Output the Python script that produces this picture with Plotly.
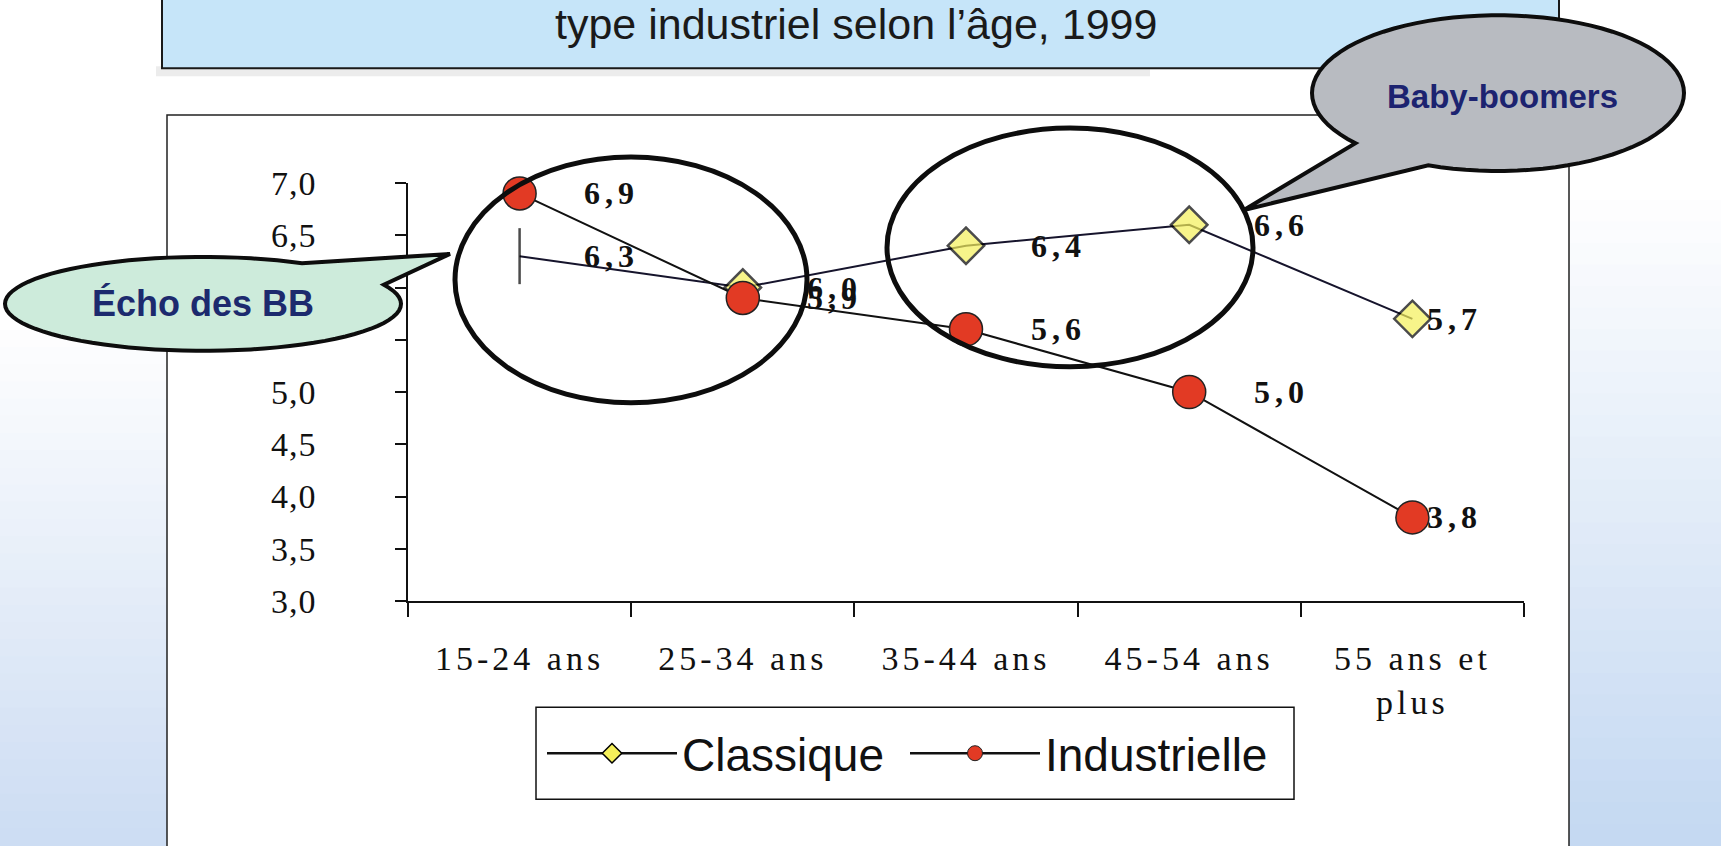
import math
import plotly.graph_objects as go

# ---------------- data ----------------
categories = ["15-24 ans", "25-34 ans", "35-44 ans", "45-54 ans", "55 ans et<br>plus"]
classique = [6.3, 6.0, 6.4, 6.6, 5.7]
industrielle = [6.9, 5.9, 5.6, 5.0, 3.8]
y_ticks = [3.0, 3.5, 4.0, 4.5, 5.0, 5.5, 6.0, 6.5, 7.0]
hidden_ticks = [5.5, 6.0]          # covered by the "Écho des BB" callout
title_text = "type industriel selon l\u2019âge, 1999"
callout_left = "Écho des BB"
callout_right = "Baby-boomers"

# ---------------- geometry helpers (page pixels -> paper) ----------------
W, H = 1721, 846
L, R, T, B = 408, 1524, 183, 601.5


def fx(px):
    return (px - L) / (R - L)


def fy(py):
    return (B - py) / (B - T)


def callout_path(cx, cy, rx, ry, a_start, a_end, tip):
    pts = []
    a = a_start
    while a <= a_end + 1e-9:
        t = math.radians(a)
        pts.append((cx + rx * math.cos(t), cy + ry * math.sin(t)))
        a += 4
    pts.append(tip)
    return "M " + " L ".join(f"{fx(x):.5f},{fy(y):.5f}" for x, y in pts) + " Z"


def spaced(txt, sp):
    return f'<span style="letter-spacing:{sp}px">{txt}</span>'


fig = go.Figure()

# data traces
fig.add_trace(go.Scatter(
    x=categories, y=classique, mode="lines+markers", name="Classique",
    showlegend=False, cliponaxis=False,
    line=dict(color="#16142c", width=2),
    marker=dict(symbol=["line-ns", "diamond", "diamond", "diamond", "diamond"],
                size=[40, 28, 28, 28, 28], color="#f5f05a",
                line=dict(color="#000000", width=2.5)),
))
fig.add_trace(go.Scatter(
    x=categories, y=industrielle, mode="lines+markers", name="Industrielle",
    showlegend=False, cliponaxis=False,
    line=dict(color="#111111", width=2),
    marker=dict(symbol="circle", size=33, color="#e23a24",
                line=dict(color="#222222", width=1.5)),
))
# legend entries
fig.add_trace(go.Scatter(
    x=[None], y=[None], mode="lines+markers", name="Classique",
    line=dict(color="#111111", width=2.5),
    marker=dict(symbol="diamond", size=15, color="#f5f05a",
                line=dict(color="#000000", width=1.5)),
))
fig.add_trace(go.Scatter(
    x=[None], y=[None], mode="lines+markers", name="Industrielle",
    line=dict(color="#111111", width=2.5),
    marker=dict(symbol="circle", size=15, color="#e23a24",
                line=dict(color="#222222", width=1)),
))

# data labels
annotations = []
label_font = dict(family="Liberation Serif", size=32, color="#111111")
for series in (classique, industrielle):
    for i, (c, v) in enumerate(zip(categories, series)):
        annotations.append(dict(
            x=c, y=v, xref="x", yref="y", showarrow=False,
            text="<b>" + spaced(f"{v:.1f}".replace(".", ","), 5) + "</b>",
            xshift=92 if i < len(categories) - 1 else 42,
            font=label_font,
        ))

# ---------------- decorative shapes ----------------
shapes = []
n = 30
for k in range(n):
    y0 = 330 + k * (846 - 330) / n
    y1 = 330 + (k + 1) * (846 - 330) / n
    f = (k + 1) / n
    col = f"rgb({int(255 - f * 50)},{int(255 - f * 34)},{int(255 - f * 12)})"
    shapes.append(dict(type="rect", xref="paper", yref="paper", layer="below",
                       x0=fx(-5), x1=fx(167), y0=fy(y1 + 1), y1=fy(y0),
                       fillcolor=col, line=dict(width=0)))
for k in range(n):
    y0 = 200 + k * (846 - 200) / n
    y1 = 200 + (k + 1) * (846 - 200) / n
    f = (k + 1) / n
    col = f"rgb({int(255 - f * 58)},{int(255 - f * 38)},{int(255 - f * 13)})"
    shapes.append(dict(type="rect", xref="paper", yref="paper", layer="below",
                       x0=fx(1569), x1=fx(1730), y0=fy(y1 + 1), y1=fy(y0),
                       fillcolor=col, line=dict(width=0)))
# chart frame
shapes.append(dict(type="rect", xref="paper", yref="paper", layer="below",
                   x0=fx(167), x1=fx(1569), y0=fy(900), y1=fy(115),
                   fillcolor="white", line=dict(color="#222222", width=1.5)))
# title box shadow and box
shapes.append(dict(type="rect", xref="paper", yref="paper", layer="below",
                   x0=fx(156), x1=fx(1150), y0=fy(76), y1=fy(66),
                   fillcolor="#ececec", line=dict(width=0)))
shapes.append(dict(type="rect", xref="paper", yref="paper", layer="below",
                   x0=fx(162), x1=fx(1559), y0=fy(68), y1=fy(-20),
                   fillcolor="#c6e5f9", line=dict(color="#1a1a1a", width=2)))
# legend box
shapes.append(dict(type="rect", xref="paper", yref="paper", layer="below",
                   x0=fx(536), x1=fx(1294), y0=fy(800), y1=fy(708),
                   fillcolor="white", line=dict(color="#111111", width=1.5)))
# circled groups
shapes.append(dict(type="circle", xref="paper", yref="paper", layer="above",
                   x0=fx(455), x1=fx(807), y0=fy(403), y1=fy(157),
                   line=dict(color="#0d0d0d", width=5)))
shapes.append(dict(type="circle", xref="paper", yref="paper", layer="above",
                   x0=fx(887), x1=fx(1253), y0=fy(367), y1=fy(128),
                   line=dict(color="#0d0d0d", width=5)))
# callouts
shapes.append(dict(type="path", xref="paper", yref="paper", layer="above",
                   path=callout_path(203, 304, 198, 47, -24, 302, (450, 254)),
                   fillcolor="#cdebdb", line=dict(color="#0d0d0d", width=4)))
shapes.append(dict(type="path", xref="paper", yref="paper", layer="above",
                   path=callout_path(1498, 93, 186, 78, 140, 474, (1244, 210)),
                   fillcolor="#b8bbc1", line=dict(color="#0d0d0d", width=4)))

annotations += [
    dict(xref="paper", yref="paper", x=fx(856), y=fy(24), xanchor="center", yanchor="middle",
         showarrow=False, text=title_text,
         font=dict(family="Liberation Sans", size=43, color="#1a1a1a")),
    dict(xref="paper", yref="paper", x=fx(203), y=fy(304), xanchor="center", yanchor="middle",
         showarrow=False, text=f"<b>{callout_left}</b>",
         font=dict(family="Liberation Sans", size=36, color="#1c2a6e")),
    dict(xref="paper", yref="paper", x=fx(1502), y=fy(96), xanchor="center", yanchor="middle",
         showarrow=False, text=f"<b>{callout_right}</b>",
         font=dict(family="Liberation Sans", size=33, color="#1c2370")),
]

ytext = ["" if v in hidden_ticks else spaced(f"{v:.1f}".replace(".", ","), 1) for v in y_ticks]
xtext = [spaced(c, 4) if "<br>" not in c else "<br>".join(spaced(p, 4) for p in c.split("<br>"))
         for c in categories]

fig.update_layout(
    width=W, height=H,
    margin=dict(l=L, r=W - R, t=T, b=H - B, pad=0, autoexpand=False),
    paper_bgcolor="white", plot_bgcolor="rgba(0,0,0,0)",
    separators=", ",
    showlegend=True,
    legend=dict(orientation="h", x=fx(542), y=fy(754), xanchor="left", yanchor="middle",
                bgcolor="rgba(0,0,0,0)", borderwidth=0,
                font=dict(family="Liberation Sans", size=46, color="#111111"),
                entrywidth=218, itemwidth=130),
    xaxis=dict(type="category", categoryorder="array", categoryarray=categories,
               range=[-0.5, len(categories) - 0.5], tickson="boundaries",
               tickmode="array", tickvals=categories, ticktext=xtext,
               ticks="outside", ticklen=14, tickwidth=1.5, tickcolor="#111111",
               showline=True, linecolor="#111111", linewidth=1.5, showgrid=False,
               tickfont=dict(family="Liberation Serif", size=34, color="#111111"),
               ticklabelstandoff=26),
    yaxis=dict(range=[3, 7], tickmode="array", tickvals=y_ticks, ticktext=ytext,
               ticks="outside", ticklen=11, tickwidth=1.5, tickcolor="#111111",
               showline=True, linecolor="#111111", linewidth=1.5, showgrid=False,
               zeroline=False,
               tickfont=dict(family="Liberation Serif", size=34, color="#111111"),
               ticklabelstandoff=72),
    shapes=shapes,
    annotations=annotations,
)

fig.write_html("out.html", config={"displayModeBar": False},
               post_script="document.body.style.margin='0px';")
